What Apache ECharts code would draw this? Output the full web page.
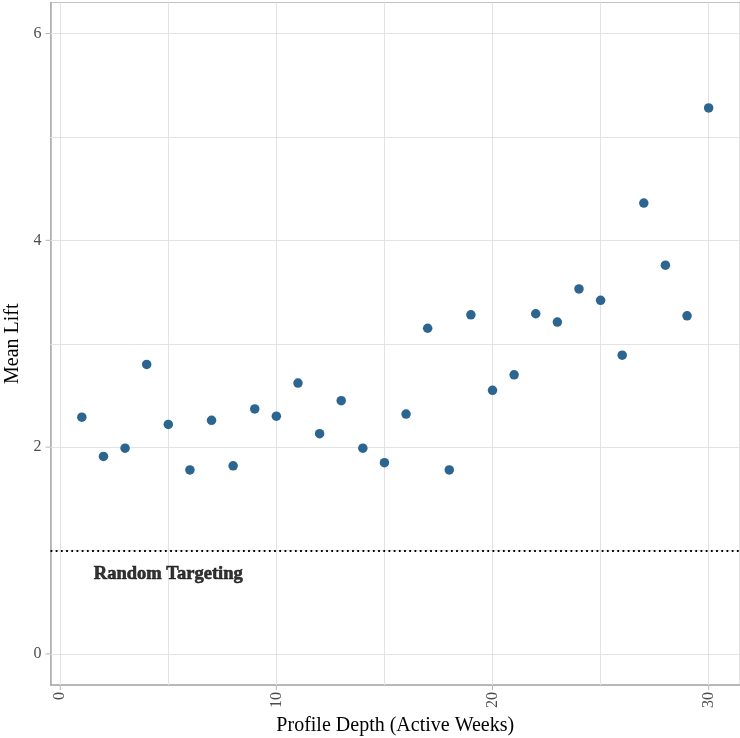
<!DOCTYPE html>
<html>
<head>
<meta charset="utf-8">
<script src="https://cdn.jsdelivr.net/npm/echarts@6/dist/echarts.min.js"></script>
<style>html,body{margin:0;padding:0;background:#fff}#c{width:740px;height:738px}</style>
</head>
<body>
<div id="c"></div>
<script>
const weeks = [1,2,3,4,5,6,7,8,9,10,11,12,13,14,15,16,17,18,19,20,21,22,23,24,25,26,27,28,29,30];
const meanLift = [2.29,1.91,1.99,2.80,2.22,1.78,2.26,1.82,2.37,2.30,2.62,2.13,2.45,1.99,1.85,2.32,3.15,1.78,3.28,2.55,2.70,3.29,3.21,3.53,3.42,2.89,4.36,3.76,3.27,5.28];
const xTicks = [0,10,20,30];
const yTicks = [0,2,4,6];
const xGrid = [0,5,10,15,20,25,30];
const yGrid = [0,1,2,3,4,5,6];
const baseline = 1;
const annotation = {text: 'Random Targeting', x: 5, y: 0.77};

const X_MIN = -0.45, X_MAX = 31.45, Y_MIN = -0.3, Y_MAX = 6.3;
const FONT = '"Liberation Serif", "Times New Roman", serif';
const gridColor = '#e3e3e3';
const axisColor = '#ababab';
const tickColor = '#b8b8b8';

const chart = echarts.init(document.getElementById('c'), null, {renderer: 'canvas'});
chart.setOption({
  animation: false,
  backgroundColor: '#fff',
  grid: {left: 50.5, right: 0, top: 2.5, bottom: 53, show: true, borderColor: '#c4c4c4', borderWidth: 1,
    containLabel: false, outerBoundsMode: 'none'},
  xAxis: {
    type: 'value', min: X_MIN, max: X_MAX,
    name: 'Profile Depth (Active Weeks)', nameLocation: 'middle', nameGap: 28,
    nameTextStyle: {fontFamily: FONT, fontSize: 20, color: '#000'},
    axisLine: {show: true, onZero: false, lineStyle: {color: axisColor, width: 1.5}},
    axisTick: {show: false},
    axisLabel: {customValues: xTicks, rotate: 90, fontFamily: FONT, fontSize: 16, color: '#4d4d4d', margin: 7},
    splitLine: {show: false}
  },
  yAxis: {
    type: 'value', min: Y_MIN, max: Y_MAX,
    name: 'Mean Lift', nameLocation: 'middle', nameGap: 19, nameRotate: 90,
    nameTextStyle: {fontFamily: FONT, fontSize: 20, color: '#000'},
    axisLine: {show: true, onZero: false, lineStyle: {color: axisColor, width: 1.5}},
    axisTick: {show: false},
    axisLabel: {customValues: yTicks, fontFamily: FONT, fontSize: 16, color: '#4d4d4d', margin: 9},
    splitLine: {show: false}
  },
  series: [
    {
      type: 'scatter', data: [], z: 1, silent: true,
      markLine: {
        silent: true, symbol: 'none', animation: false, z: 1,
        label: {show: false},
        lineStyle: {color: gridColor, type: 'solid', width: 1},
        data: xGrid.map(v => ({xAxis: v})).concat(yGrid.map(v => ({yAxis: v})))
      }
    },
    {
      type: 'scatter', data: [], z: 2, silent: true,
      markLine: {
        silent: true, symbol: 'none', animation: false, z: 2,
        label: {show: false},
        lineStyle: {color: '#000', type: [1.8, 3.4], width: 1.8},
        data: [{yAxis: baseline}]
      }
    },
    {
      type: 'custom', clip: false, silent: true, z: 2,
      data: xTicks.map(v => [v, Y_MIN, 0]).concat(yTicks.map(v => [X_MIN, v, 1])),
      renderItem: function (params, api) {
        const p = api.coord([api.value(0), api.value(1)]);
        const isY = api.value(2) === 1;
        const shape = isY ? {x1: p[0] - 5, y1: p[1], x2: p[0] - 0.5, y2: p[1]}
                          : {x1: p[0], y1: p[1] + 0.5, x2: p[0], y2: p[1] + 5};
        return {type: 'line', shape: shape, style: {stroke: tickColor, lineWidth: 1}};
      }
    },
    {
      type: 'scatter', z: 5, symbolSize: 9.5,
      itemStyle: {color: '#2c6690', opacity: 1},
      data: weeks.map((w, i) => [w, meanLift[i]])
    },
    {
      type: 'scatter', z: 6, symbolSize: 0, silent: true,
      data: [[annotation.x, annotation.y]],
      label: {show: true, position: 'inside', formatter: annotation.text,
        fontFamily: FONT, fontSize: 18.5, fontWeight: 'bold', color: '#000',
        textBorderColor: '#000', textBorderWidth: 0.6}
    }
  ]
});
</script>
</body>
</html>
